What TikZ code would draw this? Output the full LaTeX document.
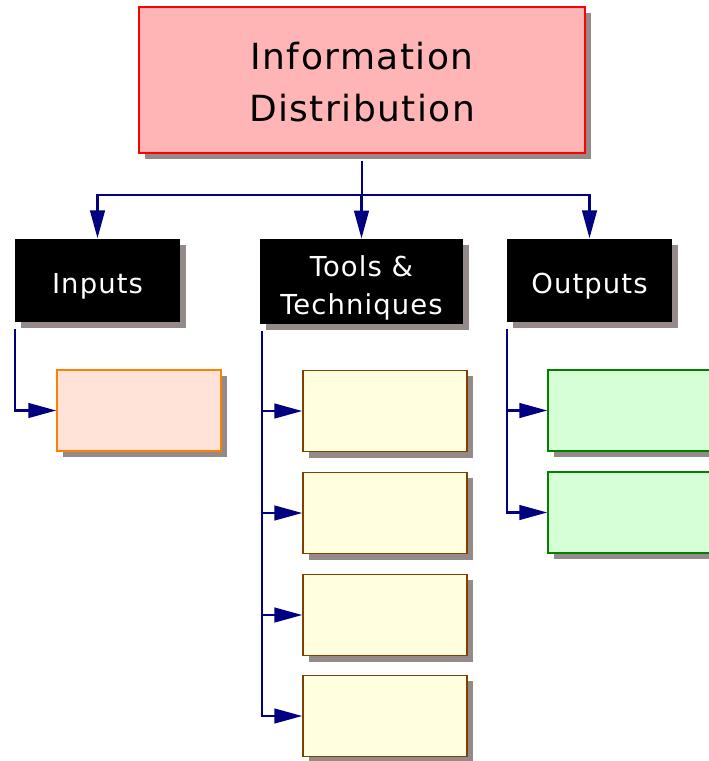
\documentclass[tikz,border=0pt]{standalone}
\usepackage{fontspec}
\setmainfont{DejaVu Sans}[LetterSpace=4]
\usepackage{tikz}
\usetikzlibrary{arrows.meta, shadows}
\definecolor{linknavy}{RGB}{0,0,128}
\definecolor{shadowgray}{RGB}{148,138,138}
\definecolor{rootfill}{RGB}{255,181,181}
\definecolor{inputfill}{RGB}{255,226,216}
\definecolor{inputline}{RGB}{255,128,0}
\definecolor{toolfill}{RGB}{255,255,224}
\definecolor{toolline}{RGB}{128,64,0}
\definecolor{outfill}{RGB}{214,255,214}
\definecolor{outline}{RGB}{0,128,0}
\tikzset{every picture/.style={line width=0.75pt},
  boxshadow/.style={drop shadow={shadow xshift=4.5pt, shadow yshift=-4.5pt, fill=shadowgray, opacity=1}},
  rootbox/.style={boxshadow, draw=red, fill=rootfill, line width=1pt, minimum width=334.5pt, minimum height=109.5pt},
  roottext/.style={align=center, font=\fontsize{27}{39}\selectfont, yshift=-1.5pt},
  headbox/.style={boxshadow, fill=black, minimum height=62.5pt},
  headtext/.style={text=white, align=center, font=\fontsize{20.6}{28.5}\selectfont, yshift=-4.5pt},
  leafbox/.style={boxshadow, line width=1.1pt, minimum width=123pt, minimum height=61pt},
  link/.style={draw=linknavy, line width=1.8pt},
  linkarrow/.style={link, -{Triangle[length=21pt,width=11pt]}}
}

\begin{document}
\begin{tikzpicture}[x=0.75pt,y=0.75pt,yscale=-1,xscale=1]
    \useasboundingbox (0,0) rectangle (709,761);
    % top box
    \node (info) at (362,80) [rootbox, label={[roottext]center:{Information\\Distribution}}] {};
    % group heads
    \node (inputs) at (97.5,280.5) [headbox, minimum width=123.75pt, label={[headtext]center:Inputs}] {};
    \node (tools) at (361.5,281.5) [headbox, minimum width=152.25pt, minimum height=63.75pt, label={[headtext]center:{Tools \&\\Techniques}}] {};
    \node (outputs) at (589.5,280.5) [headbox, minimum width=123.75pt, label={[headtext]center:Outputs}] {};
    % leaves
    \node (in1) at (139,410.5) [leafbox, draw=inputline, fill=inputfill] {};
    \foreach \i/\y in {1/411,2/513,3/615,4/716}
        \node (tt\i) at (385,\y) [leafbox, draw=toolline, fill=toolfill] {};
    \node (out1) at (630,410.5) [leafbox, draw=outline, fill=outfill] {};
    \node (out2) at (630,512.5) [leafbox, draw=outline, fill=outfill] {};
    % connectors
    \coordinate (stem) at (362,161);
    \coordinate (split) at (362,195);
    \draw [link] (stem) -- (split);
    \draw [linkarrow] (split) -| (inputs.north);
    \draw [linkarrow] (split) -- (split -| tools.north) -- (tools.north);
    \draw [linkarrow] (split) -| (outputs.north);
    \coordinate (intrunk) at (15,329);
    \coordinate (tttrunk) at (262,331);
    \coordinate (outtrunk) at (507,329);
    \draw [linkarrow] (intrunk) |- (in1.west);
    \draw [linkarrow] (tttrunk) |- (tt4.west);
    \foreach \i in {1,2,3}
        \draw [linkarrow] (tttrunk |- tt\i.west) -- (tt\i.west);
    \draw [linkarrow] (outtrunk) |- (out2.west);
    \draw [linkarrow] (outtrunk |- out1.west) -- (out1.west);
\end{tikzpicture}
\end{document}
